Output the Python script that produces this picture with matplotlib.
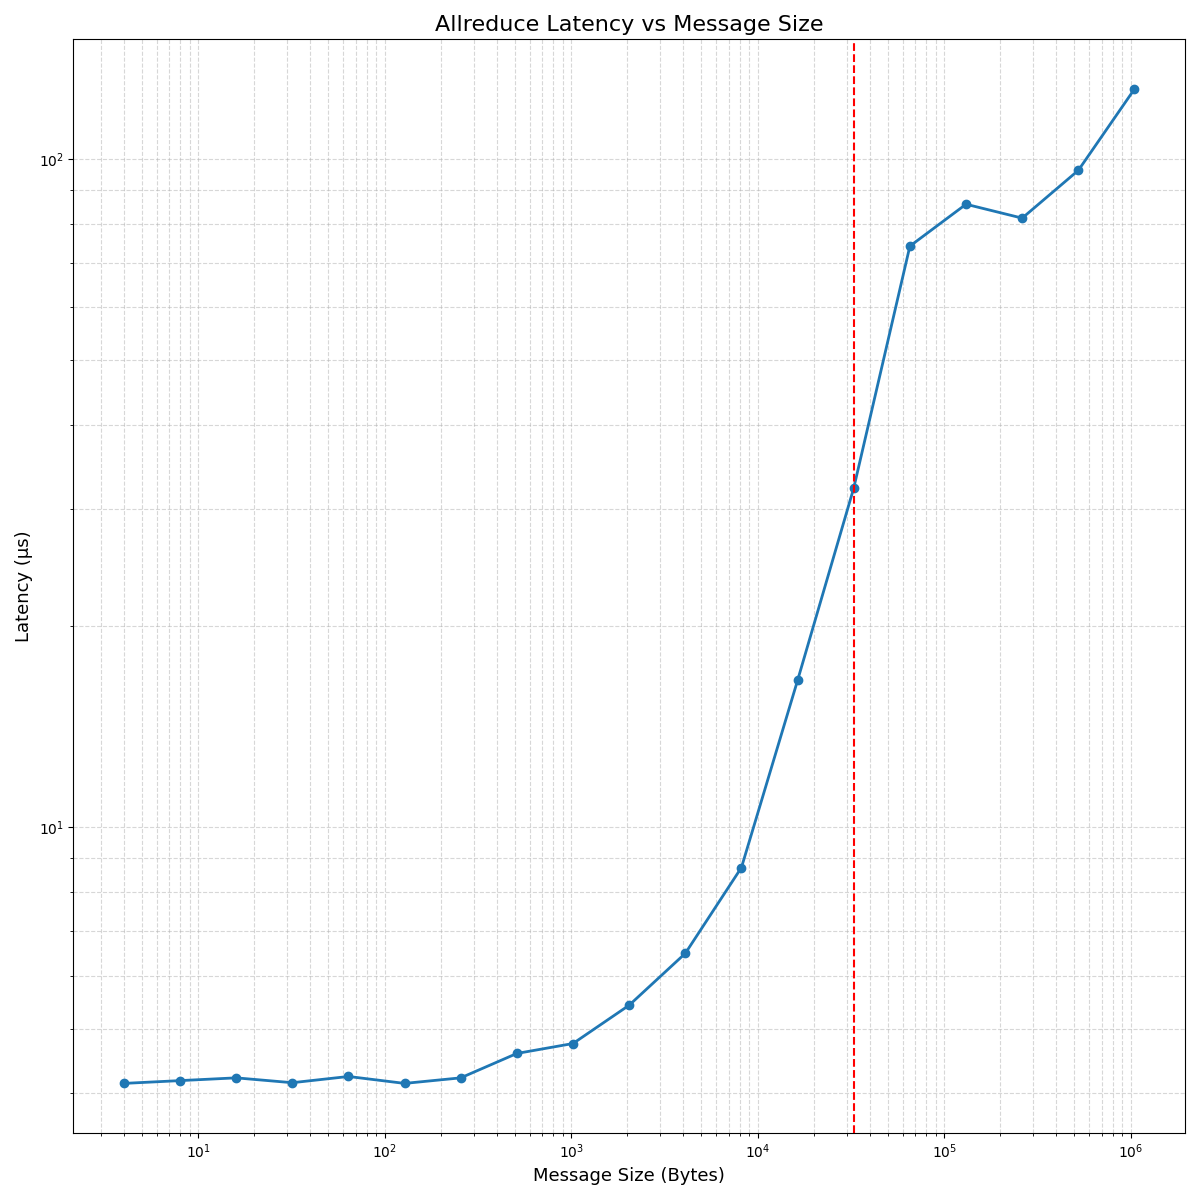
import matplotlib
matplotlib.use("Agg")
from matplotlib import pyplot as plt
import numpy as np

sizes = [2 ** k for k in range(2, 21)]
latency = [4.14, 4.18, 4.22, 4.15, 4.24, 4.14, 4.22, 4.59, 4.75, 5.42, 6.48,
           8.71, 16.6, 32.2, 74.1, 85.6, 81.6, 96.2, 127.3]
threshold = 32768

fig, ax = plt.subplots(figsize=(12, 12), dpi=100)
ax.plot(sizes, latency, marker="o", linewidth=2, color="#1f77b4")
ax.axvline(threshold, color="red", linestyle="--", linewidth=1.5)
ax.set_xscale("log", base=10)
ax.set_yscale("log", base=10)
ax.set_title("Allreduce Latency vs Message Size", fontsize=16)
ax.set_xlabel("Message Size (Bytes)", fontsize=13)
ax.set_ylabel("Latency (µs)", fontsize=13)
ax.grid(True, which="both", linestyle="--", alpha=0.5)
plt.tight_layout()
plt.savefig("out.png")
